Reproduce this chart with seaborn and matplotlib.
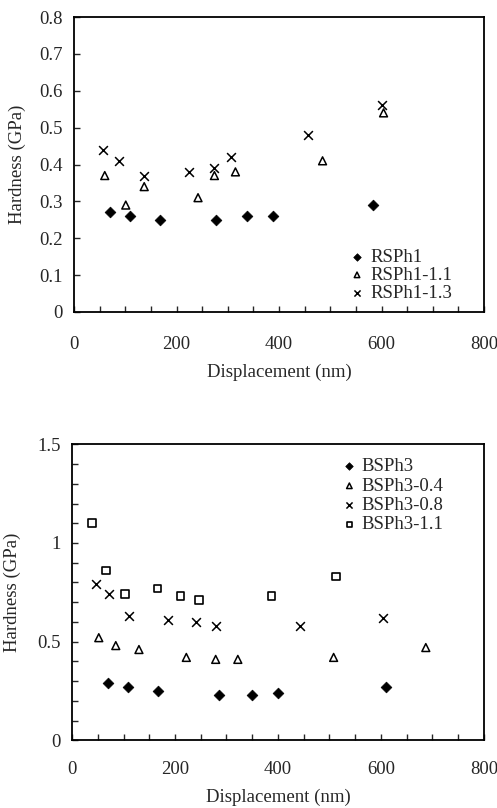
import numpy as np
import pandas as pd
import matplotlib
matplotlib.use("Agg")
import matplotlib.pyplot as plt
from matplotlib.ticker import FixedLocator
import seaborn as sns

# ---- Data: top panel ----
rsph1_x = [70, 110, 167, 277, 338, 389, 584]
rsph1_y = [0.27, 0.26, 0.25, 0.25, 0.26, 0.26, 0.29]
rsph1_11_x = [60, 101, 137, 242, 274, 315, 485, 604]
rsph1_11_y = [0.37, 0.29, 0.34, 0.31, 0.37, 0.38, 0.41, 0.54]
rsph1_13_x = [57, 88, 137, 224, 274, 306, 457, 601]
rsph1_13_y = [0.44, 0.41, 0.37, 0.38, 0.39, 0.42, 0.48, 0.56]

# ---- Data: bottom panel ----
bsph3_x = [69, 109, 167, 285, 350, 400, 609]
bsph3_y = [0.29, 0.27, 0.25, 0.23, 0.23, 0.24, 0.27]
bsph3_04_x = [52, 85, 130, 222, 279, 322, 508, 687]
bsph3_04_y = [0.52, 0.48, 0.46, 0.42, 0.41, 0.41, 0.42, 0.47]
bsph3_08_x = [46, 71, 111, 186, 240, 279, 442, 603]
bsph3_08_y = [0.79, 0.74, 0.63, 0.61, 0.60, 0.58, 0.58, 0.62]
bsph3_11_x = [39, 66, 103, 166, 211, 247, 387, 513]
bsph3_11_y = [1.10, 0.86, 0.74, 0.77, 0.73, 0.71, 0.73, 0.83]

top_labels = ["RSPh1", "RSPh1-1.1", "RSPh1-1.3"]
bottom_labels = ["BSPh3", "BSPh3-0.4", "BSPh3-0.8", "BSPh3-1.1"]

sns.set_style("white")
plt.rcParams["font.family"] = ["Liberation Serif", "DejaVu Serif"]

FS = 13.5

fig = plt.figure(figsize=(4.97, 8.08), dpi=100)
ax1 = fig.add_axes([74 / 497, 1 - 312 / 808, 410 / 497, 295 / 808])
ax2 = fig.add_axes([72 / 497, 1 - 740.3 / 808, 412 / 497, 296 / 808])

styles = {
    "D": dict(marker="D", s=30, color="black", edgecolor="black", linewidth=0.5),
    "^": dict(marker="^", s=32, facecolor="none", edgecolor="black", linewidth=1.1),
    "x": dict(marker="x", s=40, color="black", linewidth=1.1),
    "s": dict(marker="s", s=30, facecolor="none", edgecolor="black", linewidth=1.2),
}

def draw(ax, xs, ys, label, key):
    df = pd.DataFrame({"x": xs, "y": ys})
    sns.scatterplot(data=df, x="x", y="y", ax=ax, label=label, **styles[key])

draw(ax1, rsph1_x, rsph1_y, top_labels[0], "D")
draw(ax1, rsph1_11_x, rsph1_11_y, top_labels[1], "^")
draw(ax1, rsph1_13_x, rsph1_13_y, top_labels[2], "x")

draw(ax2, bsph3_x, bsph3_y, bottom_labels[0], "D")
draw(ax2, bsph3_04_x, bsph3_04_y, bottom_labels[1], "^")
draw(ax2, bsph3_08_x, bsph3_08_y, bottom_labels[2], "x")
draw(ax2, bsph3_11_x, bsph3_11_y, bottom_labels[3], "s")

xt = np.arange(0, 801, 50)
for ax in (ax1, ax2):
    ax.set_xlim(0, 800)
    ax.xaxis.set_major_locator(FixedLocator(xt))
    ax.set_xticklabels([str(int(v)) if v % 200 == 0 else "" for v in xt])
    ax.tick_params(axis="y", direction="in", length=4, width=1.0, pad=8,
                   labelsize=FS, left=True, right=False)
    for sp in ax.spines.values():
        sp.set_linewidth(1.3)
        sp.set_color("black")
    ax.set_xlabel("Displacement (nm)", fontsize=FS)
    ax.set_ylabel("Hardness (GPa)", fontsize=FS)

ax1.tick_params(axis="x", direction="in", length=4, width=1.0, pad=17,
                labelsize=FS, top=False, bottom=True)
ax2.tick_params(axis="x", direction="in", length=4, width=1.0, pad=15,
                labelsize=FS, top=False, bottom=True)

ax1.set_ylim(0, 0.8)
yt = np.round(np.arange(0, 0.81, 0.1), 1)
ax1.yaxis.set_major_locator(FixedLocator(yt))
ax1.set_yticklabels(["0"] + [f"{v:.1f}" for v in yt[1:]])
ax1.xaxis.set_label_coords(0.5, -0.175)
ax1.yaxis.set_label_coords(-0.118, 0.5)

ax2.set_ylim(0, 1.5)
yt2 = np.round(np.arange(0, 1.51, 0.1), 1)
ax2.yaxis.set_major_locator(FixedLocator(yt2))
named = {0.0: "0", 0.5: "0.5", 1.0: "1", 1.5: "1.5"}
ax2.set_yticklabels([named.get(float(v), "") for v in yt2])
ax2.xaxis.set_label_coords(0.5, -0.163)
ax2.yaxis.set_label_coords(-0.124, 0.5)

leg1 = ax1.legend(loc="upper left", bbox_to_anchor=(0.672, 0.215), frameon=False,
                  fontsize=FS, handlelength=0.8, handletextpad=0.3, borderpad=0,
                  borderaxespad=0, labelspacing=0.05, markerscale=0.7)
leg2 = ax2.legend(loc="upper left", bbox_to_anchor=(0.655, 0.953), frameon=False,
                  fontsize=FS, handlelength=0.8, handletextpad=0.25, borderpad=0,
                  borderaxespad=0, labelspacing=0.12, markerscale=0.7)

fig.savefig("out.png", dpi=100)
